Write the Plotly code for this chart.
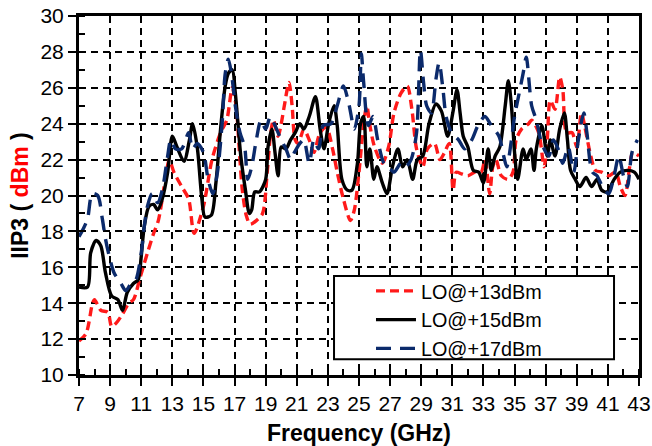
import plotly.graph_objects as go

# ---- data ----
x13 = [7.0, 7.45, 7.87, 8.0, 8.4, 8.85, 9.1, 9.4, 9.8, 10.2, 10.5, 10.95, 11.4, 11.8, 12.1, 12.55, 12.8, 13.1,
       13.6, 14.05, 14.4, 15.0, 15.55, 16.1, 16.5, 16.85, 17.1, 17.3, 17.5, 17.75, 18.0, 18.4, 18.8, 19.1, 19.3,
       19.5, 19.8, 20.0, 20.2, 20.5, 20.7, 20.9, 21.1, 21.45, 21.8, 22.1, 22.5, 22.9, 23.3, 23.6, 24.0, 24.45,
       24.7, 25.0, 25.3, 25.5, 25.7, 26.0, 26.5, 26.9, 27.25, 27.7, 28.1, 28.4, 28.7, 29.1, 29.4, 29.85, 30.2,
       30.5, 30.8, 31.05, 31.25, 31.6, 32.0, 32.45, 32.85, 33.1, 33.4, 33.6, 33.8, 34.15, 34.6, 34.9, 35.1,
       35.45, 35.9, 36.1, 36.55, 36.9, 37.1, 37.3, 37.6, 37.9, 38.1, 38.35, 38.7, 39.0, 39.3, 39.5, 39.9,
       40.2, 40.6, 41.05, 41.5, 41.8, 42.1, 42.4, 42.6, 43.0]
y13 = [11.9, 12.3, 14.0, 14.2, 13.6, 13.5, 12.7, 12.9, 13.4, 14.0, 14.2, 15.5, 16.8, 17.9, 18.6, 20.9, 22.0, 21.3,
       20.5, 19.8, 17.9, 19.4, 22.0, 23.5, 24.2, 26.0, 25.0, 22.6, 20.3, 18.9, 18.4, 18.6, 19.0, 21.3, 23.3,
       24.2, 23.3, 24.0, 25.0, 26.3, 25.0, 23.1, 22.9, 23.7, 23.1, 22.4, 23.5, 23.8, 22.6, 21.3, 19.8, 18.6,
       19.2, 21.3, 24.0, 25.0, 23.9, 22.7, 21.8, 22.7, 24.6, 25.7, 26.1, 24.8, 22.6, 21.6, 22.6, 22.9, 22.0,
       22.4, 22.9, 20.3, 21.3, 21.2, 21.1, 21.3, 21.3, 22.0, 20.1, 21.6, 22.0, 21.1, 20.9, 21.3, 23.1,
       23.7, 24.0, 24.2, 23.5, 21.6, 23.1, 25.3, 24.8, 26.6, 25.9, 23.5, 23.5, 22.7, 24.6, 23.9, 22.2,
       21.4, 21.3, 21.1, 21.3, 20.5, 20.0, 21.6, 22.4, 22.2]

x15 = [7.0, 7.55, 7.75, 8.1, 8.4, 8.7, 9.1, 9.5, 9.8, 10.1, 10.5, 10.8, 11.0, 11.2, 11.5, 11.8, 12.05, 12.35,
       12.7, 13.0, 13.3, 13.75, 14.1, 14.3, 14.6, 14.9, 15.1, 15.5, 15.8, 16.1, 16.4, 16.6, 16.85, 17.05, 17.4,
       17.7, 17.95, 18.1, 18.3, 18.6, 19.0, 19.15, 19.4, 19.6, 19.8, 20.0, 20.3, 20.6, 20.9, 21.2, 21.45, 21.8,
       22.2, 22.5, 22.75, 23.05, 23.4, 23.6, 23.9, 24.25, 24.55, 24.9, 25.1, 25.3, 25.5, 25.7, 25.95, 26.15,
       26.5, 26.8, 27.15, 27.5, 27.8, 28.1, 28.45, 28.75, 29.1, 29.5, 29.95, 30.3, 30.7, 31.05, 31.3, 31.5,
       31.7, 32.0, 32.35, 32.7, 33.0, 33.3, 33.5, 33.75, 34.05, 34.4, 34.6, 34.8, 35.0, 35.2, 35.55, 35.75,
       36.05, 36.25, 36.4, 36.75, 37.1, 37.3, 37.6, 37.9, 38.2, 38.4, 38.6, 38.9, 39.2, 39.6, 39.95, 40.3,
       40.6, 40.95, 41.4, 41.8, 42.25, 42.7, 43.0]
y15 = [14.9, 14.9, 16.8, 17.5, 17.2, 15.7, 14.4, 14.2, 13.6, 14.6, 15.1, 15.3, 16.6, 18.3, 19.4, 19.5, 19.2, 19.8,
       21.3, 23.3, 22.7, 21.9, 23.1, 24.0, 22.7, 19.8, 18.8, 18.9, 20.7, 23.7, 26.1, 26.8, 27.0, 25.7, 22.2,
       20.3, 19.0, 19.2, 20.2, 20.2, 20.9, 22.7, 23.7, 22.4, 21.1, 22.7, 22.6, 23.1, 23.5, 24.0, 23.7, 24.4,
       25.5, 23.7, 22.6, 24.0, 25.0, 23.9, 20.9, 20.3, 20.3, 21.8, 24.0, 24.4, 21.6, 22.6, 20.9, 21.6,
       20.7, 20.1, 21.6, 22.6, 21.6, 22.0, 20.9, 22.0, 22.2, 24.0, 25.1, 24.7, 23.3, 24.7, 25.9, 24.6,
       23.3, 22.7, 21.4, 21.3, 20.7, 22.6, 21.4, 22.2, 22.7, 25.0, 26.4, 25.0, 22.4, 20.9, 22.6, 22.0,
       22.6, 21.4, 22.6, 23.9, 22.2, 23.1, 22.2, 23.7, 24.6, 23.1, 21.4, 20.9, 20.5, 21.0, 20.5, 20.9,
       20.3, 20.2, 20.9, 21.3, 21.4, 21.3, 20.9]

x17 = [7.0, 7.25, 7.55, 7.85, 8.2, 8.5, 8.7, 8.95, 9.25, 9.7, 10.0, 10.35, 10.65, 11.0, 11.2, 11.4, 11.7, 12.05,
       12.35, 12.7, 12.9, 13.2, 13.6, 14.05, 14.3, 14.6, 15.0, 15.3, 15.6, 15.9, 16.2, 16.4, 16.6, 16.8, 17.05,
       17.35, 17.65, 17.85, 18.1, 18.4, 18.7, 19.0, 19.3, 19.55, 20.0, 20.3, 20.6, 20.85, 21.2, 21.45, 21.8,
       22.1, 22.4, 22.7, 23.2, 23.6, 24.0, 24.35, 24.7, 25.0, 25.15, 25.3, 25.6, 25.9, 26.2, 26.6, 26.9, 27.25,
       27.7, 28.0, 28.35, 28.7, 28.95, 29.15, 29.35, 29.65, 29.95, 30.15, 30.4, 30.6, 30.95, 31.4, 31.8, 32.25,
       32.65, 33.1, 33.5, 34.0, 34.3, 34.5, 34.8, 35.0, 35.25, 35.55, 35.75, 36.1, 36.4, 36.75, 37.2, 37.5,
       37.8, 38.1, 38.45, 38.8, 39.1, 39.45, 39.65, 40.0, 40.3, 40.65, 41.05, 41.4, 41.7, 42.0, 42.25, 42.55,
       42.9]
y17 = [17.7, 18.1, 18.7, 20.1, 20.0, 18.7, 17.6, 16.6, 15.7, 15.1, 14.7, 15.1, 15.3, 16.8, 18.3, 19.4, 20.1, 19.6,
       20.3, 22.2, 23.1, 22.6, 22.6, 23.5, 22.6, 22.9, 22.4, 20.9, 20.1, 21.3, 24.0, 26.8, 27.6, 26.8, 25.0,
       23.5, 22.7, 20.9, 21.6, 23.1, 24.2, 23.7, 24.4, 24.0, 23.1, 22.6, 22.0, 22.4, 22.9, 23.1, 21.8,
       23.1, 22.6, 23.9, 24.0, 25.0, 26.1, 25.1, 23.7, 25.0, 27.9, 26.3, 23.9, 24.4, 23.1, 21.8, 21.6, 21.3,
       21.8, 21.6, 22.0, 23.5, 28.1, 26.3, 25.0, 24.6, 26.5, 27.4, 25.9, 24.4, 23.5, 23.1, 22.6, 23.1,
       23.9, 24.4, 23.9, 23.3, 22.2, 21.6, 23.1, 24.4, 25.5, 26.8, 27.7, 25.0, 24.2, 22.9, 22.2, 23.1,
       22.6, 21.8, 22.7, 21.3, 23.1, 24.6, 23.5, 21.3, 21.1, 20.5, 20.1, 21.1, 22.2, 21.1, 20.5, 22.4,
       23.1]

names = ["LO@+13dBm", "LO@+15dBm", "LO@+17dBm"]
x_ticks = list(range(7, 44, 2))
y_ticks = list(range(10, 31, 2))

FONT = "Arial, Liberation Sans, sans-serif"

fig = go.Figure()
fig.add_trace(go.Scatter(x=x13, y=y13, name=names[0], mode="lines",
                         line=dict(color="#ff1a1a", width=3.4, dash="9px,5px", shape="spline", smoothing=0.8)))
fig.add_trace(go.Scatter(x=x15, y=y15, name=names[1], mode="lines",
                         line=dict(color="#000000", width=3.4, shape="spline", smoothing=0.8)))
fig.add_trace(go.Scatter(x=x17, y=y17, name=names[2], mode="lines",
                         line=dict(color="#0b2a6b", width=3.4, dash="15px,9px", shape="spline", smoothing=0.8)))

axis_common = dict(
    showline=True, linecolor="black", linewidth=3, mirror=True,
    showgrid=True, gridcolor="black", gridwidth=1.5, griddash="7px,5px",
    ticks="outside", ticklen=8, tickwidth=2, tickcolor="black",
    tickfont=dict(family=FONT, size=21, color="black"),
    zeroline=False, automargin=False,
)

fig.update_xaxes(range=[7, 43], tickmode="array", tickvals=x_ticks, ticktext=[str(v) for v in x_ticks],
                 minor=dict(ticks="inside", ticklen=6, tickwidth=2, tickcolor="black", dtick=1, tick0=7, showgrid=False),
                 title=dict(text="<b>Frequency (GHz)</b>", font=dict(family=FONT, size=23, color="black"), standoff=18),
                 **axis_common)
fig.update_yaxes(range=[10, 30], tickmode="array", tickvals=y_ticks, ticktext=[str(v) for v in y_ticks],
                 minor=dict(ticks="inside", ticklen=6, tickwidth=2, tickcolor="black", dtick=1, tick0=10, showgrid=False),
                 title=dict(text="<b>IIP3 ( <span style='color:#ff0000'>dBm</span> )</b>",
                            font=dict(family=FONT, size=23, color="black"), standoff=6),
                 **axis_common)

# legend frame (white box covering the curves), the legend entries sit inside it
fig.add_shape(type="rect", xref="paper", yref="paper", x0=0.4554, x1=0.9554, y0=0.0437, y1=0.2758,
              fillcolor="white", line=dict(color="black", width=2), layer="above")

fig.update_layout(
    width=652, height=446,
    margin=dict(l=79, r=13, t=16, b=71),
    paper_bgcolor="white", plot_bgcolor="white",
    showlegend=True,
    legend=dict(x=0.5214, y=0.2883, xanchor="left", yanchor="top",
                bgcolor="rgba(0,0,0,0)", borderwidth=0,
                font=dict(family=FONT, size=19.8, color="black"),
                itemwidth=40, tracegroupgap=0),
)

fig.write_html("out.html")
